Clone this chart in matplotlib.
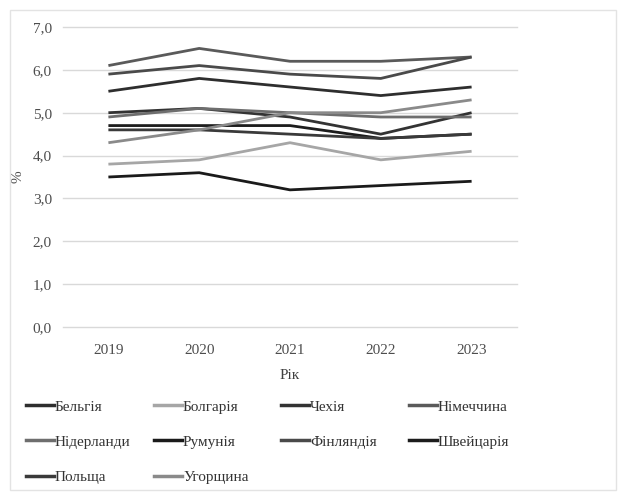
import matplotlib
matplotlib.use('Agg')
import matplotlib.pyplot as plt
from matplotlib.lines import Line2D
from matplotlib.patches import Rectangle
import numpy as np

plt.rcParams['font.family'] = ['Liberation Serif', 'DejaVu Serif']

years = ['2019', '2020', '2021', '2022', '2023']
countries = ['Бельгія', 'Болгарія', 'Чехія', 'Німеччина', 'Нідерланди',
             'Румунія', 'Фінляндія', 'Швейцарія', 'Польща', 'Угорщина']

belgium = [5.5, 5.8, 5.6, 5.4, 5.6]
bulgaria = [3.8, 3.9, 4.3, 3.9, 4.1]
czechia = [5.0, 5.1, 4.9, 4.5, 5.0]
germany = [6.1, 6.5, 6.2, 6.2, 6.3]
netherlands = [4.9, 5.1, 5.0, 4.9, 4.9]
romania = [3.5, 3.6, 3.2, 3.3, 3.4]
finland = [5.9, 6.1, 5.9, 5.8, 6.3]
switzerland = [4.7, 4.7, 4.7, 4.4, 4.5]
poland = [4.6, 4.6, 4.5, 4.4, 4.5]
hungary = [4.3, 4.6, 5.0, 5.0, 5.3]

series = [belgium, bulgaria, czechia, germany, netherlands,
          romania, finland, switzerland, poland, hungary]
line_colors = ['#2e2e2e', '#a6a6a6', '#333333', '#5a5a5a', '#6e6e6e',
               '#1a1a1a', '#4a4a4a', '#1c1c1c', '#3a3a3a', '#8a8a8a']

fig = plt.figure(figsize=(6.2, 4.92), dpi=100)
fig.patches.append(Rectangle((10 / 620, 2 / 492), 606 / 620, 480 / 492,
                             transform=fig.transFigure, fill=False,
                             edgecolor='#e3e3e3', linewidth=1))

ax = fig.add_axes([63 / 620, 1 - 327 / 492, 454 / 620, 300 / 492])
x = np.arange(len(years))
for name, vals, c in zip(countries, series, line_colors):
    ax.plot(x, vals, color=c, linewidth=2.0, solid_capstyle='butt', label=name)

ax.set_xlim(-0.5, len(years) - 0.5)
ax.set_ylim(0, 7)
ax.set_yticks(np.arange(0, 7.1, 1.0))
ax.set_yticklabels([f'{v:.1f}'.replace('.', ',') for v in np.arange(0, 7.1, 1.0)])
ax.set_xticks(x)
ax.set_xticklabels(years)
ax.yaxis.grid(True, color='#d9d9d9', linewidth=1)
for gl in ax.get_ygridlines():
    gl.set_clip_on(False)
ax.set_axisbelow(True)
for s in ax.spines.values():
    s.set_visible(False)
ax.tick_params(length=0, labelsize=11, colors='#4d4d4d', pad=8)
ax.tick_params(axis='x', pad=12)
ax.set_xlabel('Рік', fontsize=11, color='#404040', labelpad=9)
ax.set_ylabel('%', fontsize=11, color='#4d4d4d')
ax.yaxis.set_label_coords(-0.085, 0.5)

# legend laid out as four separate columns
col_x = [26 / 620, 154 / 620, 281 / 620, 409 / 620]
for ci in range(4):
    idx = [i for i in range(len(countries)) if i % 4 == ci]
    hs = [Line2D([], [], color=line_colors[i], linewidth=2.5) for i in idx]
    labs = [countries[i] for i in idx]
    leg = fig.legend(hs, labs, loc='upper left', bbox_to_anchor=(col_x[ci], 1 - 400 / 492),
                     frameon=False, fontsize=11, handlelength=1.8, handletextpad=0.1,
                     labelspacing=1.4, borderaxespad=0, borderpad=0)
    for t in leg.get_texts():
        t.set_color('#333333')

fig.savefig('out.png', dpi=100)
